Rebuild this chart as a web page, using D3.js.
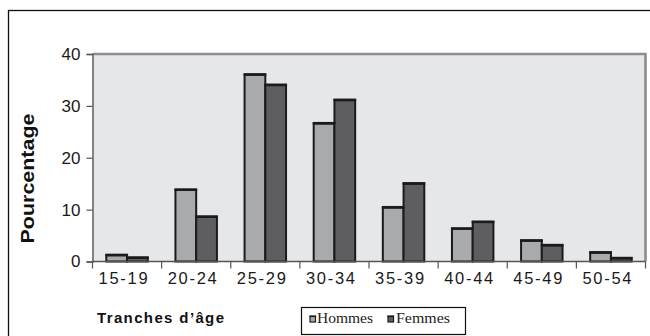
<!DOCTYPE html>
<html>
<head>
<meta charset="utf-8">
<script src="https://cdn.jsdelivr.net/npm/d3@7"></script>
<style>
  html, body { margin: 0; padding: 0; background: #fff; }
  svg { display: block; }
</style>
</head>
<body>
<svg id="chart" width="650" height="336"></svg>
<script>
// Age groups and share (%) of men and women in each
const categories = ["15-19", "20-24", "25-29", "30-34", "35-39", "40-44", "45-49", "50-54"];
const hommes = [1.2, 13.8, 36.0, 26.6, 10.4, 6.3, 4.0, 1.7];
const femmes = [0.7, 8.6, 34.0, 31.1, 15.0, 7.6, 3.1, 0.6];
const seriesNames = ["Hommes", "Femmes"];
const yTicks = [0, 10, 20, 30, 40];

const colors = { Hommes: "#a9aaad", Femmes: "#5e5e61" };

const svg = d3.select("#chart");

// outer frame
svg.append("rect")
  .attr("x", 8.5).attr("y", 10.5)
  .attr("width", 660).attr("height", 340)
  .attr("fill", "none").attr("stroke", "#111").attr("stroke-width", 1.3);

const plot = { left: 92.5, right: 645.5, top: 54, bottom: 261.5 };

const x = d3.scaleBand().domain(categories).range([plot.left, plot.right]).padding(0);
const xs = d3.scaleBand().domain(seriesNames).range([x.bandwidth() * 0.2, x.bandwidth() * 0.8]).padding(0);
const y = d3.scaleLinear().domain([0, 40]).range([plot.bottom, plot.top]);

// plot background
svg.append("rect")
  .attr("x", plot.left).attr("y", plot.top)
  .attr("width", plot.right - plot.left).attr("height", plot.bottom - plot.top)
  .attr("fill", "#e6e7e9");

// gray top and right border of the plot area
svg.append("path")
  .attr("d", `M${plot.left},${plot.top} H${plot.right} V${plot.bottom}`)
  .attr("fill", "none").attr("stroke", "#8d8d90").attr("stroke-width", 2.6);

// bars
const rows = categories.map((c, i) => ({ cat: c, Hommes: hommes[i], Femmes: femmes[i] }));
const groups = svg.append("g").selectAll("g").data(rows).join("g")
  .attr("transform", d => `translate(${x(d.cat)},0)`);

groups.selectAll("rect").data(d => seriesNames.map(k => ({ key: k, value: d[k] }))).join("rect")
  .attr("x", d => xs(d.key))
  .attr("y", d => y(d.value))
  .attr("width", xs.bandwidth())
  .attr("height", d => y(0) - y(d.value))
  .attr("fill", d => colors[d.key])
  .attr("stroke", "#1b1b1b").attr("stroke-width", 2);

groups.selectAll("line.top").data(d => seriesNames.map(k => ({ key: k, value: d[k] }))).join("line")
  .attr("class", "top")
  .attr("x1", d => xs(d.key) - 1).attr("x2", d => xs(d.key) + xs.bandwidth() + 1)
  .attr("y1", d => y(d.value) - 0.3).attr("y2", d => y(d.value) - 0.3)
  .attr("stroke", "#1b1b1b").attr("stroke-width", 2.6);

// y axis
const yAxis = svg.append("g")
  .attr("transform", `translate(${plot.left},0)`)
  .call(d3.axisLeft(y).tickValues(yTicks).tickSize(6).tickPadding(6).tickFormat(d3.format("d")));
yAxis.select(".domain").attr("stroke", "#555").attr("stroke-width", 1.4);
yAxis.selectAll(".tick line").attr("stroke", "#555").attr("stroke-width", 1.2);
yAxis.selectAll(".tick text")
  .attr("font-family", "'Liberation Sans', Arial, sans-serif")
  .attr("font-size", 17).attr("fill", "#1a1a1a");

// x axis: ticks on category boundaries
const xAxis = svg.append("g").attr("transform", `translate(0,${plot.bottom})`);
xAxis.append("line")
  .attr("x1", plot.left).attr("x2", plot.right)
  .attr("stroke", "#555").attr("stroke-width", 1.6);
const bounds = categories.map(c => x(c)).concat([x(categories[categories.length - 1]) + x.bandwidth()]);
xAxis.selectAll("line.tk").data(bounds).join("line")
  .attr("class", "tk")
  .attr("x1", d => d).attr("x2", d => d)
  .attr("y1", 0).attr("y2", 7)
  .attr("stroke", "#555").attr("stroke-width", 1.2);
xAxis.selectAll("text").data(categories).join("text")
  .attr("x", d => x(d) + x.bandwidth() / 2 - 4)
  .attr("y", 22)
  .attr("text-anchor", "middle")
  .attr("font-family", "'Liberation Sans', Arial, sans-serif")
  .attr("font-size", 16.5).attr("fill", "#1a1a1a")
  .attr("textLength", 49).attr("lengthAdjust", "spacing")
  .text(d => d);

// axis titles
svg.append("text")
  .attr("transform", "translate(34,178.5) rotate(-90)")
  .attr("text-anchor", "middle")
  .attr("font-family", "'Liberation Sans', Arial, sans-serif")
  .attr("font-weight", "bold").attr("font-size", 18.5).attr("fill", "#111")
  .attr("textLength", 130).attr("lengthAdjust", "spacingAndGlyphs")
  .text("Pourcentage");

svg.append("text")
  .attr("x", 97).attr("y", 322.7)
  .attr("font-family", "'Liberation Sans', Arial, sans-serif")
  .attr("font-weight", "bold").attr("font-size", 15).attr("fill", "#111")
  .attr("textLength", 127).attr("lengthAdjust", "spacing")
  .text("Tranches d’âge");

// legend
const legend = svg.append("g");
legend.append("rect")
  .attr("x", 301.5).attr("y", 307.5).attr("width", 164).attr("height", 27)
  .attr("fill", "#fff").attr("stroke", "#111").attr("stroke-width", 1.2);
const legendItems = [
  { key: "Hommes", sx: 310, tx: 317, w: 56 },
  { key: "Femmes", sx: 388, tx: 396, w: 54 }
];
legendItems.forEach(it => {
  legend.append("rect")
    .attr("x", it.sx).attr("y", 316.5).attr("width", 5.5).attr("height", 5.5)
    .attr("fill", colors[it.key]).attr("stroke", "#1b1b1b").attr("stroke-width", 1.2);
  legend.append("line")
    .attr("x1", it.sx - 0.6).attr("x2", it.sx + 6.1)
    .attr("y1", 316.2).attr("y2", 316.2)
    .attr("stroke", "#1b1b1b").attr("stroke-width", 1.6);
  legend.append("text")
    .attr("x", it.tx).attr("y", 322.7)
    .attr("font-family", "'Liberation Serif', 'Times New Roman', serif")
    .attr("font-size", 14.5).attr("fill", "#222")
    .attr("textLength", it.w).attr("lengthAdjust", "spacingAndGlyphs")
    .text(it.key);
});
</script>
</body>
</html>
